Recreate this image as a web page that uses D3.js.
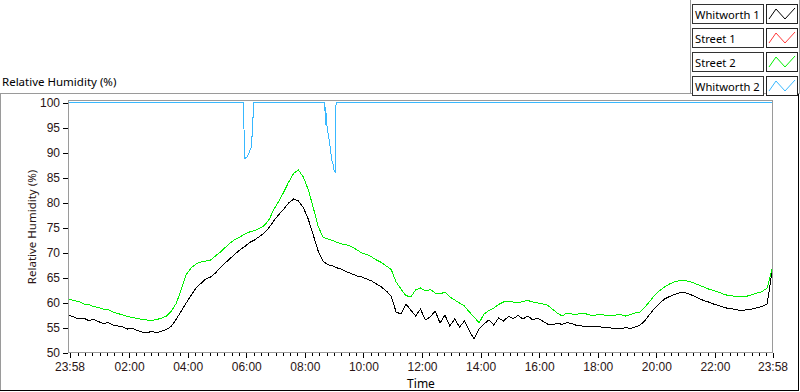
<!DOCTYPE html>
<html>
<head>
<meta charset="utf-8">
<script src="https://cdn.jsdelivr.net/npm/d3@7"></script>
<style>
  body { margin: 0; background: #fff; }
  svg { display: block; font-family: "Noto Sans", "Open Sans", sans-serif; }
  .tick text { fill: #2a1414; font-size: 12px; }
  .legend text { font-size: 11.2px; fill: #000; }
</style>
</head>
<body>
<div id="chart"></div>
<script>
// series names + colours, in legend order
const seriesNames = ['Whitworth 1', 'Street 1', 'Street 2', 'Whitworth 2'];
const seriesColors = ['#000000', '#ff3a3a', '#00f000', '#38b8ff'];

// Whitworth 1 / Street 2 sampled every 10 minutes from 23:58
const sampleStep = 10;
const whitworth1 = [
  57.3, 57.0, 56.6, 56.8, 56.3, 56.5, 56.1, 55.7, 55.9, 55.4, 55.2, 55.0,
  54.6, 54.7, 54.3, 54.0, 53.9, 54.1, 53.8, 54.2, 54.5, 55.2, 56.6, 58.2,
  59.8, 61.3, 62.8, 63.7, 64.6, 65.0, 65.8, 66.9, 67.8, 68.7, 69.6, 70.4,
  71.1, 71.9, 72.4, 73.1, 73.8, 74.9, 76.3, 77.5, 78.6, 79.8, 80.6, 80.2,
  78.9, 76.6, 73.5, 70.3, 68.2, 67.5, 67.2, 66.8, 66.5, 66.0, 65.6, 65.2,
  65.0, 64.6, 64.2, 63.6, 63.0, 62.2, 61.2, 58.0, 57.6, 59.6, 58.4, 57.2,
  58.6, 56.4, 57.0, 58.2, 55.8, 57.4, 55.2, 56.6, 55.0, 56.2, 54.2, 52.6,
  54.6, 55.6, 56.4, 55.4, 56.8, 56.2, 57.1, 56.7, 57.3, 56.6, 57.2, 56.4,
  56.8, 56.2, 55.6, 55.4, 55.8, 55.5, 55.9, 55.7, 55.3, 55.2, 55.0, 55.1,
  55.2, 55.0, 54.9, 54.8, 54.7, 54.6, 54.9, 54.7, 55.0, 55.4, 56.3, 57.6,
  58.8, 59.8, 60.6, 61.1, 61.5, 61.8, 61.9, 61.6, 61.2, 60.7, 60.3, 60.0,
  59.6, 59.3, 59.0, 58.7, 58.6, 58.4, 58.3, 58.5, 58.6, 58.9, 59.1, 59.6,
  66.0
];
const street2 = [
  60.6, 60.3, 60.1, 59.6, 59.5, 59.1, 58.9, 58.6, 58.5, 58.0, 57.7, 57.4,
  57.1, 56.9, 56.7, 56.5, 56.4, 56.3, 56.5, 56.8, 57.2, 58.2, 59.8, 62.5,
  65.5, 66.8, 67.6, 68.0, 68.2, 68.4, 69.2, 70.0, 70.9, 71.8, 72.5, 73.0,
  73.6, 74.0, 74.3, 74.7, 75.3, 76.5, 78.6, 80.2, 82.0, 84.0, 85.7, 86.4,
  85.0, 82.5, 79.0, 75.2, 73.0, 72.6, 72.3, 71.9, 71.6, 71.4, 71.0, 70.4,
  69.8, 69.5, 69.0, 68.4, 67.9, 67.2, 66.5, 64.0, 62.6, 61.3, 61.0, 62.4,
  62.8, 62.2, 62.5, 61.8, 61.6, 62.0, 61.0, 60.4, 59.8, 59.2, 58.0, 57.0,
  55.8, 57.6, 58.3, 58.8, 59.5, 60.0, 60.2, 60.0, 59.8, 60.1, 60.3, 60.0,
  59.8, 59.6, 59.4, 58.6, 57.8, 57.2, 57.8, 57.6, 57.5, 57.8, 57.6, 57.3,
  57.4, 57.6, 57.3, 57.3, 57.4, 57.5, 57.2, 57.5, 57.8, 58.0, 59.0, 60.2,
  61.4, 62.3, 63.0, 63.6, 64.0, 64.3, 64.4, 64.1, 63.8, 63.4, 63.0, 62.6,
  62.3, 62.0, 61.6, 61.3, 61.2, 61.1, 61.0, 61.2, 61.5, 61.8, 62.1, 62.8,
  66.5
];
// Street 1 has no visible trace
const street1 = [];
// Whitworth 2 as [minutes from 23:58, value]
const whitworth2 = [
  [0, 100], [358, 100], [359, 88.7], [364, 88.9], [367, 89.5], [370, 90.1],
  [374, 91.2], [376, 95.5], [379, 100], [524, 100], [525, 95.5], [526, 99],
  [527, 96.5], [529, 94.8], [532, 93.0], [535, 91.0], [538, 88.5], [541, 87.5],
  [543, 86.3], [546, 86.0], [547, 100], [1440, 100]
];

const yTicks = [50, 55, 60, 65, 70, 75, 80, 85, 90, 95, 100];
const xTickLabels = ['23:58', '02:00', '04:00', '06:00', '08:00', '10:00', '12:00',
  '14:00', '16:00', '18:00', '20:00', '22:00', '23:58'];
const yTitle = 'Relative Humidity (%)';
const xTitle = 'Time';

const svgWidth = 800;
const svgHeight = 392;
const plot = { left: 69, right: 772, top: 102, bottom: 352 };

const start = new Date(Date.UTC(2000, 0, 1, 23, 58));
const end = d3.utcDay.offset(start, 1);
const atMinute = m => new Date(start.getTime() + m * 60000);

const svg = d3.select('#chart')
  .append('svg')
  .attr('width', svgWidth)
  .attr('height', svgHeight);

const x = d3.scaleUtc().domain([start, end]).range([plot.left, plot.right]);
const y = d3.scaleLinear().domain([50, 100]).range([plot.bottom, plot.top]);

// panel frame
const frame = svg.append('g').attr('fill', 'none').attr('shape-rendering', 'crispEdges');
frame.append('path').attr('stroke', '#9a9a9a').attr('d', 'M0.5,390 V93.5 H690.5 V0 M690.5,93.5 H799.5 V0');
frame.append('path').attr('stroke', '#000').attr('d', 'M0,390.5 H798.5 V93.5');

svg.append('text')
  .attr('x', 2).attr('y', 86)
  .attr('font-size', 11.5).attr('fill', '#000')
  .text(yTitle);

// plot box
svg.append('rect')
  .attr('x', plot.left - 0.5).attr('y', plot.top - 1.5)
  .attr('width', plot.right - plot.left + 1).attr('height', plot.bottom - plot.top + 2)
  .attr('fill', '#fff').attr('stroke', '#9a9a9a')
  .attr('shape-rendering', 'crispEdges');
frame.append('path').attr('stroke', '#000')
  .attr('d', `M${plot.left - 0.5},${plot.bottom + 1} V${plot.top - 1.5} H${plot.right + 0.5}`);

// y axis
const yAxis = d3.axisLeft(y).tickValues(yTicks).tickSize(5).tickPadding(3).tickSizeOuter(0);
svg.append('g')
  .attr('class', 'axis axis--y')
  .attr('transform', `translate(${plot.left - 1},0.5)`)
  .call(yAxis)
  .call(g => g.select('.domain').remove())
  .call(g => g.selectAll('.tick line').attr('stroke', '#000').attr('shape-rendering', 'crispEdges'));

svg.append('text')
  .attr('transform', `translate(36,${(plot.top + plot.bottom) / 2}) rotate(-90)`)
  .attr('text-anchor', 'middle')
  .attr('font-size', 11.5).attr('fill', '#2a1414')
  .text(yTitle);

// x axis: minor quarter-hour ticks, major labelled ticks
const parseHM = d3.utcParse('%Y-%m-%d %H:%M');
const majorTicks = xTickLabels.map((s, i) => {
  if (i === 0) return start;
  if (i === xTickLabels.length - 1) return end;
  return parseHM('2000-01-02 ' + s);
});
const minorTicks = d3.utcMinute.every(15).range(start, end);

svg.append('g')
  .attr('class', 'axis axis--x-minor')
  .attr('transform', `translate(0.5,${plot.bottom + 1})`)
  .call(d3.axisBottom(x).tickValues(minorTicks).tickSize(3).tickFormat('').tickSizeOuter(0))
  .call(g => g.select('.domain').remove())
  .call(g => g.selectAll('.tick line').attr('stroke', '#000').attr('shape-rendering', 'crispEdges'));

svg.append('g')
  .attr('class', 'axis axis--x')
  .attr('transform', `translate(0.5,${plot.bottom + 1})`)
  .call(d3.axisBottom(x).tickValues(majorTicks).tickSize(5).tickPadding(4).tickSizeOuter(0)
    .tickFormat((d, i) => xTickLabels[i]))
  .call(g => g.select('.domain').remove())
  .call(g => g.selectAll('.tick line').attr('stroke', '#000').attr('shape-rendering', 'crispEdges'));

svg.append('text')
  .attr('x', (plot.left + plot.right) / 2 + 0.5).attr('y', 388)
  .attr('text-anchor', 'middle')
  .attr('font-size', 12).attr('fill', '#000')
  .text(xTitle);

// lines
svg.append('defs').append('clipPath').attr('id', 'clip')
  .append('rect')
  .attr('x', plot.left).attr('y', plot.top - 1)
  .attr('width', plot.right - plot.left + 1).attr('height', plot.bottom - plot.top + 2);

const line = d3.line()
  .x(d => x(atMinute(d[0])))
  .y(d => y(d[1]));

const sampled = vals => vals.map((v, i) => [i * sampleStep, v]);
const seriesData = [sampled(whitworth1), street1, sampled(street2), whitworth2];

const lines = svg.append('g').attr('clip-path', 'url(#clip)');
seriesData.forEach((data, i) => {
  if (!data.length) return;
  lines.append('path')
    .datum(data)
    .attr('fill', 'none')
    .attr('stroke', seriesColors[i])
    .attr('stroke-width', 1)
    .attr('shape-rendering', 'crispEdges')
    .attr('d', line);
});

// legend
const legend = svg.append('g').attr('class', 'legend');
const items = legend.selectAll('g')
  .data(seriesNames)
  .join('g')
  .attr('transform', (d, i) => `translate(0,${4 + i * 24})`);

items.append('rect')
  .attr('x', 692.5).attr('y', 0.5).attr('width', 71).attr('height', 19)
  .attr('fill', '#fff').attr('stroke', '#333');
items.append('text')
  .attr('x', 695).attr('y', 14.5)
  .text(d => d);
items.append('rect')
  .attr('x', 766.5).attr('y', 0.5).attr('width', 31).attr('height', 19)
  .attr('fill', '#fff').attr('stroke', '#222');
items.append('path')
  .attr('fill', 'none')
  .attr('stroke', (d, i) => seriesColors[i])
  .attr('d', 'M769,15 L776,5 L785,15 L795,4');
</script>
</body>
</html>
